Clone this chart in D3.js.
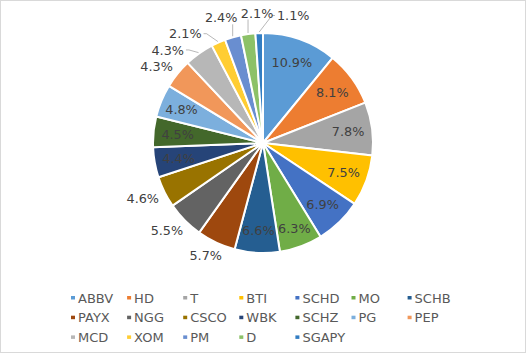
<!DOCTYPE html>
<html>
<head>
<meta charset="utf-8">
<script src="https://cdn.jsdelivr.net/npm/d3@7"></script>
<style>
  body { margin: 0; background: #fff; }
  svg { display: block; font-family: "DejaVu Sans", Verdana, sans-serif; }
</style>
</head>
<body>
<div id="chart"></div>
<script>
// holdings, in chart order (clockwise from 12 o'clock)
const tickers = ["ABBV", "HD", "T", "BTI", "SCHD", "MO", "SCHB", "PAYX", "NGG", "CSCO",
                 "WBK", "SCHZ", "PG", "PEP", "MCD", "XOM", "PM", "D", "SGAPY"];
const shares = [10.9, 8.1, 7.8, 7.5, 6.9, 6.3, 6.6, 5.7, 5.5, 4.6,
                4.4, 4.5, 4.8, 4.3, 4.3, 2.1, 2.4, 2.1, 1.1];
const sliceColors = ["#5B9BD5", "#ED7D31", "#A5A5A5", "#FFC000", "#4472C4", "#70AD47",
                     "#255E91", "#9E480E", "#636363", "#997300", "#264478", "#43682B",
                     "#7CAFDD", "#F1975A", "#B7B7B7", "#FFCD33", "#698ED0", "#8CC168", "#327DC2"];

const width = 526, height = 354;
const cx = 263, cy = 143, radius = 110;
const labelSize = 12.8, legendSize = 13;

const data = tickers.map((t, i) => ({ ticker: t, value: shares[i] }));
const color = d3.scaleOrdinal().domain(tickers).range(sliceColors);

const svg = d3.select("#chart").append("svg")
    .attr("width", width)
    .attr("height", height);

svg.append("rect")
    .attr("x", 0.5).attr("y", 0.5)
    .attr("width", width - 1).attr("height", height - 2)
    .attr("fill", "#fff")
    .attr("stroke", "#d9d9d9");

const pie = d3.pie().sort(null).value(d => d.value);
const arc = d3.arc().innerRadius(0).outerRadius(radius);
const arcs = pie(data);

const g = svg.append("g").attr("transform", `translate(${cx},${cy})`);

g.selectAll("path.slice")
    .data(arcs)
    .join("path")
    .attr("class", "slice")
    .attr("d", arc)
    .attr("fill", d => color(d.data.ticker))
    .attr("stroke", "#fff")
    .attr("stroke-width", 2)
    .attr("stroke-linejoin", "round");

// measure label widths
const fmt = d => d.data.value.toFixed(1) + "%";
const probe = svg.append("text").attr("font-size", labelSize);
const labels = arcs.map(d => {
    probe.text(fmt(d));
    const w = probe.node().getComputedTextLength();
    return { d, text: fmt(d), w, h: 13, angle: (d.startAngle + d.endAngle) / 2 };
});
probe.remove();

// best fit: inside if the text box fits in the wedge, otherwise outside
function fitsInside(l, rho) {
    const a = l.angle, bw = l.w + 2, bh = 10;
    const x0 = rho * Math.sin(a), y0 = -rho * Math.cos(a);
    const corners = [[x0 - bw / 2, y0 - bh / 2], [x0 + bw / 2, y0 - bh / 2],
                     [x0 - bw / 2, y0 + bh / 2], [x0 + bw / 2, y0 + bh / 2]];
    return corners.every(([x, y]) => {
        if (Math.hypot(x, y) > radius + 2) return false;
        let phi = Math.atan2(x, -y);
        if (phi < 0) phi += 2 * Math.PI;
        return phi >= l.d.startAngle && phi <= l.d.endAngle;
    });
}

labels.forEach(l => {
    l.inside = false;
    for (let rho = radius * 0.78; rho <= radius * 0.85; rho += 0.5) {
        if (fitsInside(l, rho)) {
            l.inside = true;
            l.x = rho * Math.sin(l.angle);
            l.y = -rho * Math.cos(l.angle);
            break;
        }
    }
    if (!l.inside) {
        const s = Math.sin(l.angle), c = Math.cos(l.angle), rr = radius + 8;
        l.x = rr * s + s * l.w / 2;
        l.y = -rr * c - c * l.h / 2;
        l.bx = l.x; l.by = l.y;
    }
});

// push overlapping outside labels apart along the tangent
const outs = labels.filter(l => !l.inside);
const gap = 3;

function clearPie(l) {
    const nx = Math.max(l.x - l.w / 2, Math.min(0, l.x + l.w / 2));
    const ny = Math.max(l.y - l.h / 2, Math.min(0, l.y + l.h / 2));
    const dist = Math.hypot(nx, ny);
    if (dist < radius + 4) {
        const len = Math.hypot(l.x, l.y);
        const push = radius + 4 - dist;
        l.x += l.x / len * push;
        l.y += l.y / len * push;
    }
    l.y = Math.max(l.y, -cy + 4 + l.h / 2);
    l.x = Math.max(l.x, -cx + 4 + l.w / 2);
    l.x = Math.min(l.x, width - cx - 4 - l.w / 2);
}

for (let it = 0; it < 600; it++) {
    let moved = false;
    for (let i = 0; i < outs.length; i++) {
        for (let j = i + 1; j < outs.length; j++) {
            const a = outs[i], b = outs[j];
            if (Math.abs(a.x - b.x) < (a.w + b.w) / 2 + gap &&
                Math.abs(a.y - b.y) < (a.h + b.h) / 2 + gap) {
                const m = (a.angle + b.angle) / 2;
                const tx = Math.cos(m), ty = Math.sin(m);
                a.x -= tx * 0.5; a.y -= ty * 0.5;
                b.x += tx * 0.5; b.y += ty * 0.5;
                moved = true;
            }
        }
    }
    outs.forEach(clearPie);
    if (!moved) break;
}

// leader lines for labels that had to move away
const leaders = outs.filter(l => Math.hypot(l.x - l.bx, l.y - l.by) > 6);
g.selectAll("path.leader")
    .data(leaders)
    .join("path")
    .attr("class", "leader")
    .attr("fill", "none")
    .attr("stroke", "#a6a6a6")
    .attr("stroke-width", 0.8)
    .attr("d", l => {
        const ex = (radius + 1) * Math.sin(l.angle), ey = -(radius + 1) * Math.cos(l.angle);
        const left = l.x - l.w / 2, right = l.x + l.w / 2;
        if (ex >= left && ex <= right) {
            return `M${ex},${l.y + l.h / 2}L${ex},${ey}`;
        }
        const side = ex > right ? right + 2 : left - 2;
        const stub = ex > right ? side + 3 : side - 3;
        return `M${side},${l.y}L${stub},${l.y}L${ex},${ey}`;
    });

g.selectAll("text.value")
    .data(labels)
    .join("text")
    .attr("class", "value")
    .attr("x", l => l.x)
    .attr("y", l => l.y)
    .attr("dy", "0.36em")
    .attr("text-anchor", "middle")
    .attr("font-size", labelSize)
    .attr("fill", "#404040")
    .text(l => l.text);

// legend: 7 columns
const cols = 7, colW = 56.1, legX = 71, legY = 298, rowH = 19.7;
const legend = svg.append("g")
    .selectAll("g")
    .data(tickers)
    .join("g")
    .attr("transform", (t, i) => `translate(${legX + (i % cols) * colW},${legY + Math.floor(i / cols) * rowH})`);

legend.append("rect")
    .attr("x", 0).attr("y", -2)
    .attr("width", 4).attr("height", 3.5)
    .attr("fill", t => color(t));

legend.append("text")
    .attr("x", 7)
    .attr("dy", "0.36em")
    .attr("font-size", legendSize)
    .attr("fill", "#595959")
    .text(t => t);
</script>
</body>
</html>
